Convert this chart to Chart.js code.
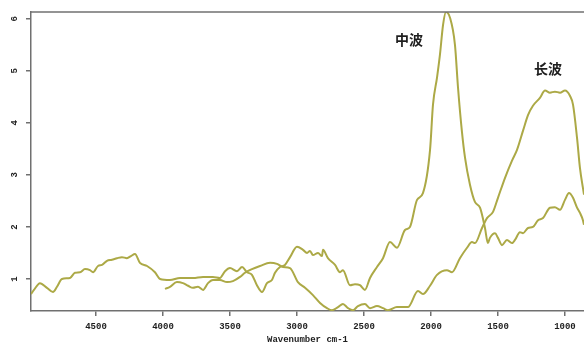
<!DOCTYPE html>
<html>
<head>
<meta charset="utf-8">
<script src="https://cdn.jsdelivr.net/npm/chart.js@4"></script>
<style>
  html, body { margin: 0; padding: 0; background: #fff; }
</style>
</head>
<body>
<canvas id="spectrum" width="584" height="344"></canvas>
<script>
// mid-wave spectrum (中波), wavenumber cm-1 / absorbance
const midWaveNumbers = [
  4985, 4963, 4918, 4866, 4821, 4791, 4754, 4694, 4657, 4619, 4582, 4545, 4522,
  4485, 4455, 4418, 4381, 4343, 4306, 4269, 4239, 4209, 4172, 4119, 4060, 4022,
  3948, 3873, 3776, 3701, 3627, 3575, 3537, 3500, 3448, 3410, 3373, 3336, 3299,
  3261, 3224, 3187, 3164, 3127, 3090, 3052, 3000, 2955, 2925, 2903, 2881, 2843,
  2813, 2806, 2769, 2716, 2679, 2657, 2604, 2567, 2530, 2493, 2455, 2403, 2358,
  2306, 2254, 2194, 2157, 2104, 2060, 2007, 1985, 1955, 1933, 1910, 1888, 1858,
  1821, 1798, 1769, 1746, 1709, 1672, 1634, 1597, 1575, 1560, 1522, 1500, 1470,
  1433, 1396, 1373, 1336, 1313, 1276, 1239, 1201, 1164, 1112, 1075, 1037, 1000,
  970, 940, 910, 888, 866, 858,
];
const midWaveValues = [
  0.71, 0.79, 0.92, 0.83, 0.75, 0.85, 1.0, 1.02, 1.12, 1.13, 1.19, 1.17, 1.13,
  1.25, 1.27, 1.35, 1.37, 1.4, 1.42, 1.4, 1.44, 1.48, 1.31, 1.25, 1.13, 1.0,
  0.98, 1.02, 1.02, 1.04, 1.04, 1.02, 1.15, 1.21, 1.15, 1.23, 1.13, 1.08, 0.88,
  0.75, 0.92, 0.98, 1.12, 1.23, 1.27, 1.42, 1.62, 1.56, 1.5, 1.54, 1.46, 1.5,
  1.44, 1.56, 1.4, 1.27, 1.13, 1.17, 0.88, 0.9, 0.88, 0.79, 1.02, 1.23, 1.4,
  1.71, 1.6, 1.94, 2.0, 2.52, 2.65, 3.48, 4.35, 4.87, 5.31, 5.88, 6.13, 6.02,
  5.5, 4.67, 3.83, 3.33, 2.81, 2.48, 2.37, 1.98, 1.69, 1.79, 1.88, 1.79, 1.65,
  1.75, 1.69, 1.75, 1.9, 1.88, 1.98, 2.0, 2.13, 2.17, 2.37, 2.38, 2.33, 2.52,
  2.65, 2.56, 2.37, 2.27, 2.13, 2.04,
];

// long-wave spectrum (长波)
const longWaveNumbers = [
  3985, 3948, 3896, 3851, 3813, 3776, 3739, 3701, 3664, 3627, 3575, 3522, 3478,
  3425, 3388, 3336, 3276, 3201, 3149, 3104, 3052, 2993, 2940, 2881, 2828, 2776,
  2739, 2694, 2657, 2619, 2582, 2545, 2493, 2455, 2403, 2358, 2321, 2254, 2209,
  2172, 2097, 2060, 2007, 1955, 1881, 1843, 1784, 1731, 1694, 1672, 1619, 1582,
  1537, 1500, 1448, 1396, 1358, 1313, 1276, 1239, 1187, 1149, 1112, 1075, 1037,
  1000, 963, 940, 910, 888, 866, 858,
];
const longWaveValues = [
  0.81, 0.85, 0.94, 0.92, 0.87, 0.83, 0.85, 0.79, 0.92, 0.98, 0.98, 0.94, 0.96,
  1.04, 1.12, 1.19, 1.25, 1.31, 1.29, 1.23, 1.21, 0.94, 0.83, 0.69, 0.54, 0.44,
  0.4, 0.46, 0.52, 0.44, 0.4, 0.48, 0.52, 0.44, 0.48, 0.44, 0.4, 0.46, 0.46,
  0.46, 0.77, 0.71, 0.87, 1.08, 1.17, 1.13, 1.4, 1.6, 1.71, 1.69, 1.98, 2.17,
  2.29, 2.56, 2.94, 3.27, 3.48, 3.85, 4.15, 4.33, 4.48, 4.62, 4.58, 4.6, 4.58,
  4.62, 4.52, 4.35, 3.71, 3.13, 2.75, 2.62,
];

const xTickValues = [4500, 4000, 3500, 3000, 2500, 2000, 1500, 1000];
const yTickValues = [1, 2, 3, 4, 5, 6];

const peakLabelTexts = ["中波", "长波"];
const peakLabelNumbers = [2164, 1127];
const peakLabelValues = [5.6, 5.04];

const LINE_COLOR = "#aca946";
const AXIS_COLOR = "#707070";
const TEXT_COLOR = "#1e1e1e";
const MONO = "'Liberation Mono', 'DejaVu Sans Mono', monospace";

function toPoints(xs, ys) {
  return xs.map((x, i) => ({ x: x, y: ys[i] }));
}

// top border line, rotated y labels and the peak names
const framePlugin = {
  id: "frame",
  afterDraw(chart) {
    const { ctx, chartArea, scales } = chart;
    ctx.save();
    ctx.strokeStyle = AXIS_COLOR;
    ctx.lineWidth = 1.5;
    ctx.beginPath();
    ctx.moveTo(chartArea.left, chartArea.top);
    ctx.lineTo(chartArea.right, chartArea.top);
    ctx.stroke();

    ctx.fillStyle = TEXT_COLOR;
    ctx.font = "bold 9px " + MONO;
    ctx.textAlign = "center";
    ctx.textBaseline = "middle";
    yTickValues.forEach(function (v) {
      const y = scales.y.getPixelForValue(v);
      ctx.save();
      ctx.translate(15, y);
      ctx.rotate(-Math.PI / 2);
      ctx.fillText(String(v), 0, 0);
      ctx.restore();
    });

    ctx.font = "bold 14px 'Noto Sans CJK SC', sans-serif";
    peakLabelTexts.forEach(function (t, i) {
      ctx.fillText(
        t,
        scales.x.getPixelForValue(peakLabelNumbers[i]),
        scales.y.getPixelForValue(peakLabelValues[i]),
      );
    });
    ctx.restore();
  },
};

const lineStyle = {
  borderColor: LINE_COLOR,
  borderWidth: 2,
  pointRadius: 0,
  cubicInterpolationMode: "monotone",
  fill: false,
};

const config = {
  type: "line",
  data: {
    datasets: [
      Object.assign({ label: "中波", data: toPoints(midWaveNumbers, midWaveValues) }, lineStyle),
      Object.assign({ label: "长波", data: toPoints(longWaveNumbers, longWaveValues) }, lineStyle),
    ],
  },
  options: {
    responsive: false,
    animation: false,
    layout: { padding: { top: 12, right: 0, left: 0, bottom: 0 } },
    plugins: { legend: { display: false }, tooltip: { enabled: false } },
    scales: {
      x: {
        type: "linear",
        reverse: true,
        min: 858,
        max: 4985,
        afterBuildTicks: function (scale) {
          scale.ticks = xTickValues.map((v) => ({ value: v }));
        },
        afterFit: function (scale) {
          scale.height = 33;
        },
        grid: { drawOnChartArea: false, tickLength: 5, color: AXIS_COLOR, lineWidth: 1.5 },
        border: { color: AXIS_COLOR, width: 1.5 },
        ticks: {
          padding: 5,
          maxRotation: 0,
          color: TEXT_COLOR,
          font: { family: MONO, size: 9, weight: "bold" },
          callback: function (value) {
            return String(value);
          },
        },
        title: {
          display: true,
          text: "Wavenumber cm-1",
          color: TEXT_COLOR,
          padding: 0,
          font: { family: MONO, size: 9, weight: "bold", lineHeight: 1 },
        },
      },
      y: {
        min: 0.385,
        max: 6.13,
        afterBuildTicks: function (scale) {
          scale.ticks = yTickValues.map((v) => ({ value: v }));
        },
        afterFit: function (scale) {
          scale.width = 31;
        },
        grid: { drawOnChartArea: false, tickLength: 5, color: AXIS_COLOR, lineWidth: 1.5 },
        border: { color: AXIS_COLOR, width: 1.5 },
        ticks: { display: false },
      },
    },
  },
  plugins: [framePlugin],
};

new Chart(document.getElementById("spectrum"), config);
</script>
</body>
</html>
